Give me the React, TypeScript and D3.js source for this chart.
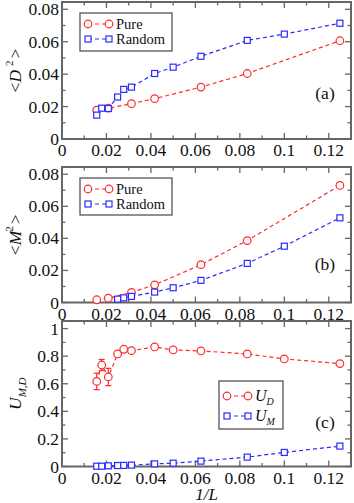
import { useEffect, useRef } from "react";
import * as d3 from "d3";

const RED = "#ff2a2a";
const BLUE = "#2a2aff";
const FONT = "Liberation Serif, Times New Roman, Times, serif";

// x positions (1/L)
const X_PURE = [0.015625, 0.020833, 0.03125, 0.041667, 0.0625, 0.083333, 0.125];
const X_RAND_A = [0.015625, 0.017857, 0.020833, 0.025, 0.027778, 0.03125, 0.041667, 0.05, 0.0625, 0.083333, 0.1, 0.125];
const X_RAND_B = [0.025, 0.027778, 0.03125, 0.041667, 0.05, 0.0625, 0.083333, 0.1, 0.125];
const X_U = [0.015625, 0.017857, 0.020833, 0.025, 0.027778, 0.03125, 0.041667, 0.05, 0.0625, 0.083333, 0.1, 0.125];

// (a) <D^2>
const D2_PURE = [0.0178, 0.019, 0.0218, 0.0249, 0.032, 0.0404, 0.0606];
const D2_RAND = [0.0147, 0.019, 0.0188, 0.0259, 0.0306, 0.032, 0.0404, 0.0443, 0.051, 0.0608, 0.0647, 0.0714];

// (b) <M^2>
const M2_PURE = [0.0017, 0.0027, 0.0063, 0.011, 0.0236, 0.0386, 0.073];
const M2_RAND = [0.0021, 0.0029, 0.0038, 0.0065, 0.0092, 0.0138, 0.0244, 0.0351, 0.0528];

// (c) Binder cumulants
const U_D = [0.617, 0.736, 0.649, 0.816, 0.85, 0.84, 0.867, 0.845, 0.838, 0.816, 0.78, 0.746];
const U_D_ERR = [0.06, 0.04, 0.063, 0.02, 0.008, 0, 0, 0, 0, 0, 0, 0];
const U_M = [0.002, 0.002, 0.005, 0.007, 0.008, 0.01, 0.019, 0.024, 0.039, 0.068, 0.102, 0.148];

const X_TICKS = [0, 0.02, 0.04, 0.06, 0.08, 0.1, 0.12];
const X_MINOR = [0.01, 0.03, 0.05, 0.07, 0.09, 0.11];
const Y_TICKS_AB = [0, 0.02, 0.04, 0.06, 0.08];
const Y_MINOR_AB = [0.01, 0.03, 0.05, 0.07];
const Y_TICKS_C = [0, 0.2, 0.4, 0.6, 0.8, 1];
const Y_MINOR_C = [0.1, 0.3, 0.5, 0.7, 0.9];

export default function App() {
  const ref = useRef<SVGSVGElement>(null);

  useEffect(() => {
    const svg = d3.select(ref.current);
    svg.selectAll("*").remove();

    const left = 62, right = 351;
    const x = d3.scaleLinear().domain([0, 0.13]).range([left, right]);

    const panels = [
      {
        top: 2, bottom: 139, yMax: 0.0845, ticks: Y_TICKS_AB, minor: Y_MINOR_AB, label: "(a)", labelY: 99,
        series: [
          { xs: X_PURE, ys: D2_PURE, color: RED, shape: "circle" },
          { xs: X_RAND_A, ys: D2_RAND, color: BLUE, shape: "square" },
        ],
        legend: { x: 80, y: 13, w: 92, h: 38, names: [["Pure"], ["Random"]] },
        ylab: "D",
      },
      {
        top: 167, bottom: 302.5, yMax: 0.0845, ticks: Y_TICKS_AB, minor: Y_MINOR_AB, label: "(b)", labelY: 270,
        series: [
          { xs: X_PURE, ys: M2_PURE, color: RED, shape: "circle" },
          { xs: X_RAND_B, ys: M2_RAND, color: BLUE, shape: "square" },
        ],
        legend: { x: 80, y: 178, w: 92, h: 37, names: [["Pure"], ["Random"]] },
        ylab: "M",
      },
      {
        top: 321, bottom: 466.5, yMax: 1.055, ticks: Y_TICKS_C, minor: Y_MINOR_C, label: "(c)", labelY: 428,
        series: [
          { xs: X_U, ys: U_D, err: U_D_ERR, color: RED, shape: "circle" },
          { xs: X_U, ys: U_M, color: BLUE, shape: "square" },
        ],
        legend: { x: 219, y: 381, w: 64, h: 48, names: [["U", "D"], ["U", "M"]] },
        ylab: "U",
      },
    ];

    const drawMarker = (sel: any, cx: number, cy: number, shape: string, color: string) => {
      if (shape === "circle") {
        sel.append("circle").attr("cx", cx).attr("cy", cy).attr("r", 3.8)
          .attr("fill", "white").attr("stroke", color).attr("stroke-width", 1.2);
      } else {
        sel.append("rect").attr("x", cx - 3).attr("y", cy - 3).attr("width", 6).attr("height", 6)
          .attr("fill", "white").attr("stroke", color).attr("stroke-width", 1.2);
      }
    };

    panels.forEach((p) => {
      const y = d3.scaleLinear().domain([0, p.yMax]).range([p.bottom, p.top]);
      const g = svg.append("g");

      // ticks on all four sides, pointing inward
      const tick = (v: number, len: number) => {
        g.append("line").attr("x1", x(v)).attr("x2", x(v)).attr("y1", p.bottom).attr("y2", p.bottom - len);
        g.append("line").attr("x1", x(v)).attr("x2", x(v)).attr("y1", p.top).attr("y2", p.top + len);
      };
      X_TICKS.forEach((v) => tick(v, 6));
      X_MINOR.forEach((v) => tick(v, 3.5));
      const ytick = (v: number, len: number) => {
        g.append("line").attr("x1", left).attr("x2", left + len).attr("y1", y(v)).attr("y2", y(v));
        g.append("line").attr("x1", right).attr("x2", right - len).attr("y1", y(v)).attr("y2", y(v));
      };
      p.ticks.forEach((v) => ytick(v, 6));
      p.minor.forEach((v) => ytick(v, 3.5));
      g.selectAll("line").attr("stroke", "#666").attr("stroke-width", 1.3);

      g.append("rect")
        .attr("x", left).attr("y", p.top).attr("width", right - left).attr("height", p.bottom - p.top)
        .attr("fill", "none").attr("stroke", "#666").attr("stroke-width", 2);

      // tick labels
      X_TICKS.forEach((v) => {
        g.append("text").attr("x", x(v)).attr("y", p.bottom + 17)
          .attr("text-anchor", "middle").attr("font-family", FONT).attr("font-size", 17.5).attr("fill", "#111")
          .text(String(v));
      });
      p.ticks.forEach((v) => {
        g.append("text").attr("x", left - 3).attr("y", y(v) + 6)
          .attr("text-anchor", "end").attr("font-family", FONT).attr("font-size", 17.5).attr("fill", "#111")
          .text(String(v));
      });

      // y title
      const yt = g.append("text")
        .attr("transform", `translate(21,${(p.top + p.bottom) / 2}) rotate(-90)`)
        .attr("text-anchor", "middle").attr("font-family", FONT).attr("font-size", 17.5).attr("fill", "#111");
      if (p.ylab === "U") {
        yt.append("tspan").attr("font-style", "italic").text("U");
        yt.append("tspan").attr("font-style", "italic").attr("font-size", 11).attr("dy", 5).text("M,D");
      } else {
        yt.append("tspan").text("<");
        yt.append("tspan").attr("font-style", "italic").text(p.ylab);
        yt.append("tspan").attr("font-size", 11).attr("dy", -8).attr("dx", p.ylab === "M" ? -1 : 4).text("2");
        yt.append("tspan").attr("dy", 8).attr("dx", 2).text(">");
      }

      g.append("text").attr("x", 325).attr("y", p.labelY)
        .attr("text-anchor", "middle").attr("font-family", FONT).attr("font-size", 17.5).attr("fill", "#111")
        .text(p.label);

      p.series.forEach((s: any) => {
        const pts = s.xs.map((xv: number, i: number) => [xv, s.ys[i]] as [number, number]);
        const path = d3.line<[number, number]>().x((d) => x(d[0])).y((d) => y(d[1]));
        g.append("path").attr("d", path(pts)).attr("fill", "none")
          .attr("stroke", s.color).attr("stroke-width", 1.2).attr("stroke-dasharray", "4,3");
        if (s.err) {
          pts.forEach((d: [number, number], i: number) => {
            const e = s.err[i];
            if (!e) return;
            const cx = x(d[0]);
            g.append("line").attr("x1", cx).attr("x2", cx).attr("y1", y(d[1] - e)).attr("y2", y(d[1] + e))
              .attr("stroke", s.color).attr("stroke-width", 1.2);
            [d[1] - e, d[1] + e].forEach((v) => {
              g.append("line").attr("x1", cx - 3).attr("x2", cx + 3).attr("y1", y(v)).attr("y2", y(v))
                .attr("stroke", s.color).attr("stroke-width", 1.2);
            });
          });
        }
        pts.forEach((d: [number, number]) => drawMarker(g, x(d[0]), y(d[1]), s.shape, s.color));
      });

      // legend
      const L = p.legend;
      g.append("rect").attr("x", L.x).attr("y", L.y).attr("width", L.w).attr("height", L.h)
        .attr("fill", "white").attr("stroke", "#555").attr("stroke-width", 1.3);
      p.series.forEach((s: any, i: number) => {
        const ly = L.y + (p.ylab === "U" ? 15 + i * 20 : 11 + i * 15);
        const x1 = L.x + 8, x2 = L.x + 29;
        g.append("line").attr("x1", x1).attr("x2", x2).attr("y1", ly).attr("y2", ly)
          .attr("stroke", s.color).attr("stroke-width", 1.2).attr("stroke-dasharray", "4,3");
        drawMarker(g, x1, ly, s.shape, s.color);
        drawMarker(g, x2, ly, s.shape, s.color);
        const name = L.names[i];
        const t = g.append("text").attr("x", x2 + 7).attr("y", ly + 5)
          .attr("font-family", FONT).attr("font-size", name.length === 1 ? 14.5 : 16).attr("fill", "#111");
        if (name.length === 1) {
          t.text(name[0]);
        } else {
          t.append("tspan").attr("font-style", "italic").text(name[0]);
          t.append("tspan").attr("font-style", "italic").attr("font-size", 10).attr("dy", 4).text(name[1]);
        }
      });
    });

    // x title
    svg.append("text").attr("x", (left + right) / 2).attr("y", 500)
      .attr("text-anchor", "middle").attr("font-family", FONT).attr("font-size", 17)
      .attr("font-style", "italic").attr("fill", "#111").text("1/L");
  }, []);

  return (
    <svg ref={ref} width={354} height={503}
      style={{ position: "absolute", left: 0, top: 0, background: "white" }} />
  );
}
